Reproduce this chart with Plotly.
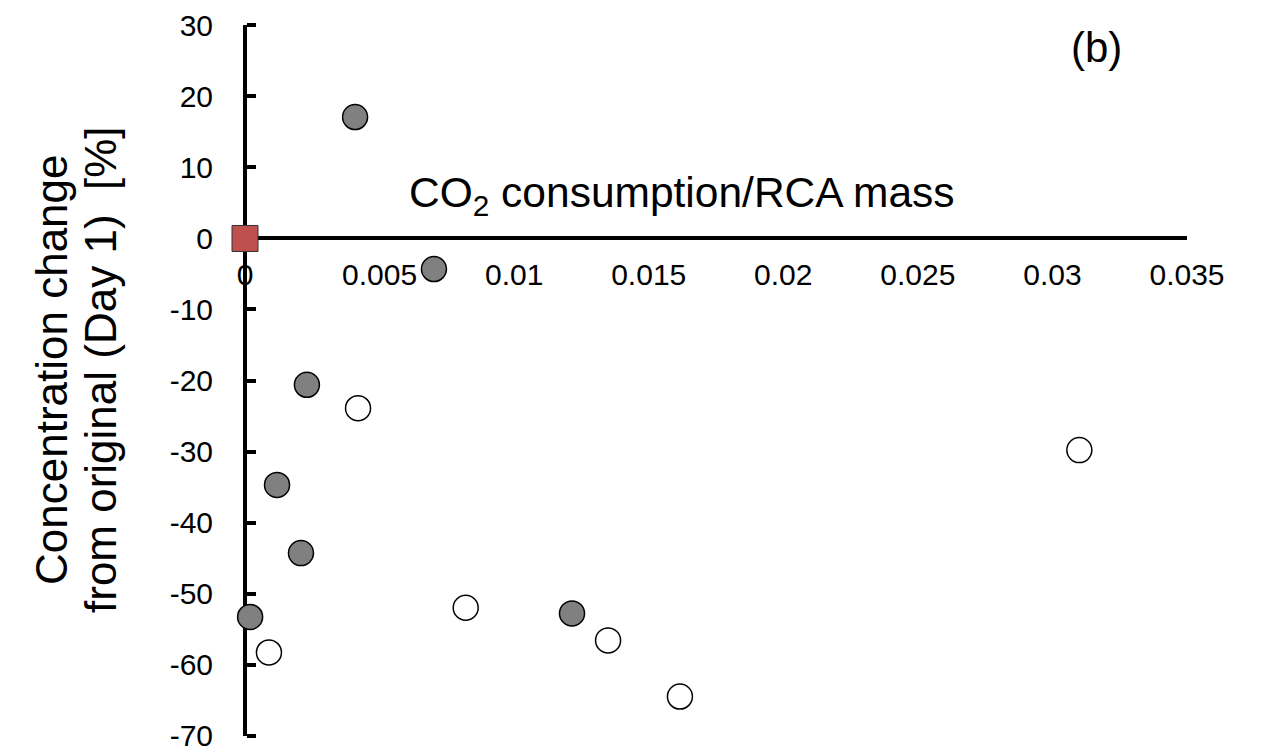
import plotly.graph_objects as go

# Data
filled_x = [0.00409, 0.00702, 0.0023, 0.00119, 0.00208, 0.00019, 0.01215]
filled_y = [17.1, -4.3, -20.6, -34.7, -44.3, -53.3, -52.8]

open_x = [0.0042, 0.0310, 0.0082, 0.01349, 0.01616, 0.00089]
open_y = [-23.9, -29.8, -52.0, -56.6, -64.5, -58.3]

origin_x = [0.0]
origin_y = [0.0]

x_ticks = [0, 0.005, 0.01, 0.015, 0.02, 0.025, 0.03, 0.035]
x_ticktext = ["0", "0.005", "0.01", "0.015", "0.02", "0.025", "0.03", "0.035"]
y_ticks = [30, 20, 10, 0, -10, -20, -30, -40, -50, -60, -70]
y_ticktext = ["30", "20", "10", "0", "-10", "-20", "-30", "-40", "-50", "-60", "-70"]

FONT = "Arial, Liberation Sans, sans-serif"

fig = go.Figure()
fig.add_trace(go.Scatter(
    x=open_x, y=open_y, mode="markers", cliponaxis=False,
    marker=dict(size=25, color="white", line=dict(color="black", width=1.5)),
    showlegend=False))
fig.add_trace(go.Scatter(
    x=filled_x, y=filled_y, mode="markers", cliponaxis=False,
    marker=dict(size=25, color="#808080", line=dict(color="black", width=1.5)),
    showlegend=False))
fig.add_trace(go.Scatter(
    x=origin_x, y=origin_y, mode="markers", cliponaxis=False,
    marker=dict(size=26, symbol="square", color="#C0504D", line=dict(color="#333333", width=1)),
    showlegend=False))

fig.update_layout(
    width=1261, height=750,
    margin=dict(l=245, r=74, t=25, b=14, autoexpand=False),
    paper_bgcolor="white", plot_bgcolor="rgba(0,0,0,0)",
    font=dict(family=FONT, color="black"),
    xaxis=dict(
        range=[0, 0.035], anchor="free", position=0.7,
        showline=True, linewidth=4, linecolor="black",
        showgrid=False, zeroline=False, automargin=False,
        tickvals=x_ticks, ticktext=x_ticktext,
        ticks="outside", ticklen=9, tickcolor="rgba(0,0,0,0)",
        tickfont=dict(size=30, family=FONT, color="black"),
        ticklabeloverflow="allow",
        layer="below traces",
    ),
    yaxis=dict(
        range=[-70.06, 30.06], anchor="free", position=0,
        showline=True, linewidth=4, linecolor="black",
        showgrid=False, zeroline=False, automargin=False,
        tickvals=y_ticks, ticktext=y_ticktext,
        ticks="outside", ticklen=24, tickwidth=1, tickcolor="rgba(0,0,0,0)",
        tickfont=dict(size=30, family=FONT, color="black"),
        ticklabeloverflow="allow",
        minor=dict(ticks="inside", tick0=0.0001, dtick=10, ticklen=9,
                   tickwidth=4, tickcolor="black", showgrid=False),
        layer="below traces",
    ),
)

fig.add_annotation(
    text="CO<sub>2</sub> consumption/RCA mass", xref="paper", yref="paper",
    x=(682 - 245) / 942, y=(736 - 195) / 711, showarrow=False,
    font=dict(size=42.5, family=FONT, color="black"), xanchor="center", yanchor="middle")
fig.add_annotation(
    text="(b)", xref="paper", yref="paper",
    x=(1096 - 245) / 942, y=(736 - 47) / 711, showarrow=False,
    font=dict(size=42, family=FONT, color="black"), xanchor="center", yanchor="middle")
fig.add_annotation(
    text="Concentration change", xref="paper", yref="paper",
    x=(52 - 245) / 942, y=(736 - 370) / 711, showarrow=False, textangle=-90,
    font=dict(size=44, family=FONT, color="black"), xanchor="center", yanchor="middle")
fig.add_annotation(
    text="from original (Day 1)  [%]", xref="paper", yref="paper",
    x=(101 - 245) / 942, y=(736 - 370) / 711, showarrow=False, textangle=-90,
    font=dict(size=44, family=FONT, color="black"), xanchor="center", yanchor="middle")

fig.write_html("out.html")
